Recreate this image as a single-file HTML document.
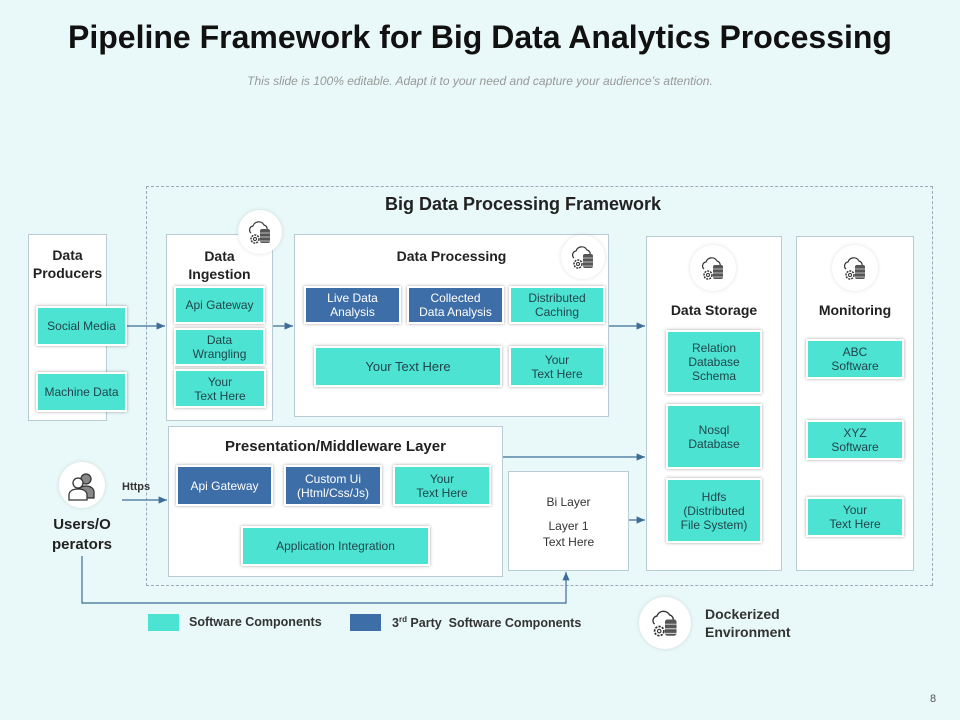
<!DOCTYPE html>
<html><head><meta charset="utf-8"><style>
*{margin:0;padding:0;box-sizing:border-box}
body{width:960px;height:720px;background:#e9f8f8;font-family:"Liberation Sans",sans-serif;position:relative;overflow:hidden}
.a{position:absolute}
.box{position:absolute;background:#fff;border:1px solid #b9ccd4}
.t,.b{position:absolute;display:flex;align-items:center;justify-content:center;text-align:center;font-size:12px;line-height:14px;border:2px solid #fff;box-shadow:0 0 3px rgba(0,0,0,.35)}
.t{background:#4de3d2;color:#21454a}
.b{background:#3e6ea8;color:#fff}
.h{position:absolute;text-align:center;font-weight:bold;font-size:14px;color:#222;line-height:18px}
.ic{position:absolute;border-radius:50%;background:#fff;box-shadow:0 0 4px rgba(0,0,0,.12)}
</style></head><body>
<div class="a" style="left:0;top:19px;width:960px;text-align:center;font-weight:bold;font-size:32px;color:#111">Pipeline Framework for Big Data Analytics Processing</div>
<div class="a" style="left:0;top:74px;width:960px;text-align:center;font-style:italic;font-size:12px;color:#999">This slide is 100% editable. Adapt it to your need and capture your audience’s attention.</div>
<div class="a" style="left:146px;top:186px;width:787px;height:400px;border:1px dashed #9ab"></div>
<div class="h" style="left:290px;top:195px;width:466px;font-size:18px">Big Data Processing Framework</div>

<svg class="a" style="left:0;top:0" width="960" height="720">
<defs><marker id="m" markerWidth="8" markerHeight="8" refX="7" refY="4" orient="auto"><path d="M0,1 L7,4 L0,7z" fill="#3e6e98"/></marker></defs>
<g stroke="#3e6e98" stroke-width="1.2" fill="none" marker-end="url(#m)">
<path d="M106 326 H165"/><path d="M273 326 H293"/><path d="M609 326 H645"/>
<path d="M502 457 H645"/><path d="M612 520 H645"/><path d="M122 500 H167"/>
<path d="M82 556 V603 H566 V572"/>
</g>
</svg>

<div class="box" style="left:28px;top:234px;width:79px;height:187px"></div>
<div class="h" style="left:28px;top:246px;width:79px">Data<br>Producers</div>
<div class="t" style="left:36px;top:306px;width:91px;height:40px">Social Media</div>
<div class="t" style="left:36px;top:372px;width:91px;height:40px">Machine Data</div>

<div class="box" style="left:166px;top:234px;width:107px;height:187px"></div>
<div class="h" style="left:166px;top:247px;width:107px">Data<br>Ingestion</div>
<div class="t" style="left:174px;top:286px;width:91px;height:38px">Api Gateway</div>
<div class="t" style="left:174px;top:328px;width:91px;height:38px">Data<br>Wrangling</div>
<div class="t" style="left:174px;top:369px;width:92px;height:39px">Your<br>Text Here</div>

<div class="box" style="left:294px;top:234px;width:315px;height:183px"></div>
<div class="h" style="left:294px;top:247px;width:315px">Data Processing</div>
<div class="b" style="left:304px;top:286px;width:97px;height:38px">Live Data<br>Analysis</div>
<div class="b" style="left:407px;top:286px;width:97px;height:38px">Collected<br>Data Analysis</div>
<div class="t" style="left:509px;top:286px;width:96px;height:38px">Distributed<br>Caching</div>
<div class="t" style="left:314px;top:346px;width:188px;height:41px;font-size:13px">Your Text Here</div>
<div class="t" style="left:509px;top:346px;width:96px;height:41px">Your<br>Text Here</div>

<div class="box" style="left:646px;top:236px;width:136px;height:335px"></div>
<div class="h" style="left:646px;top:301px;width:136px">Data Storage</div>
<div class="t" style="left:666px;top:330px;width:96px;height:64px">Relation<br>Database<br>Schema</div>
<div class="t" style="left:666px;top:404px;width:96px;height:65px">Nosql<br>Database</div>
<div class="t" style="left:666px;top:478px;width:96px;height:65px">Hdfs<br>(Distributed<br>File System)</div>

<div class="box" style="left:796px;top:236px;width:118px;height:335px"></div>
<div class="h" style="left:796px;top:301px;width:118px">Monitoring</div>
<div class="t" style="left:806px;top:339px;width:98px;height:40px">ABC<br>Software</div>
<div class="t" style="left:806px;top:420px;width:98px;height:40px">XYZ<br>Software</div>
<div class="t" style="left:806px;top:497px;width:98px;height:40px">Your<br>Text Here</div>

<div class="box" style="left:168px;top:426px;width:335px;height:151px"></div>
<div class="h" style="left:168px;top:438px;width:335px;font-size:15px">Presentation/Middleware Layer</div>
<div class="b" style="left:176px;top:465px;width:97px;height:41px">Api Gateway</div>
<div class="b" style="left:284px;top:465px;width:98px;height:41px">Custom Ui<br>(Html/Css/Js)</div>
<div class="t" style="left:393px;top:465px;width:98px;height:41px">Your<br>Text Here</div>
<div class="t" style="left:241px;top:526px;width:189px;height:40px">Application Integration</div>

<div class="box" style="left:508px;top:471px;width:121px;height:100px"></div>
<div class="a" style="left:508px;top:494px;width:121px;text-align:center;font-size:12px;color:#333;line-height:16px">Bi Layer</div>
<div class="a" style="left:508px;top:518px;width:121px;text-align:center;font-size:12px;color:#333;line-height:16px">Layer 1<br>Text Here</div>

<div class="ic" style="left:59px;top:462px;width:46px;height:46px"></div>
<svg class="a" style="left:66px;top:470px" width="32" height="32" viewBox="0 0 32 32" fill="none" stroke="#333" stroke-width="1.3"><circle cx="20" cy="9" r="5" fill="#888"/><path d="M12 28v-6c0-4 4-6 8-6s8 2 8 6v6z" fill="#888"/><circle cx="12" cy="13" r="5" fill="#fff"/><path d="M3 30v-5c0-4 4-6 9-6s9 2 9 6v5z" fill="#fff"/></svg>
<div class="h" style="left:40px;top:515px;width:84px;font-size:15px;line-height:20px">Users/O<br>perators</div>
<div class="a" style="left:122px;top:481px;font-size:11px;font-weight:bold;color:#333">Https</div>

<div class="a" style="left:148px;top:614px;width:31px;height:17px;background:#4de3d2"></div>
<div class="a" style="left:189px;top:615px;font-size:12.5px;font-weight:bold;color:#333">Software Components</div>
<div class="a" style="left:350px;top:614px;width:31px;height:17px;background:#3e6ea8"></div>
<div class="a" style="left:392px;top:615px;font-size:12.5px;font-weight:bold;color:#333">3<sup style="font-size:8px">rd</sup> Party&nbsp; Software Components</div>

<div class="h" style="left:705px;top:605px;text-align:left;font-size:14px;line-height:18px;color:#333">Dockerized<br>Environment</div>
<div class="a" style="left:930px;top:693px;font-size:11px;color:#555">8</div>

<div class="ic" style="left:238px;top:210px;width:44px;height:44px"></div>
<div class="ic" style="left:561px;top:235px;width:44px;height:44px"></div>
<div class="ic" style="left:690px;top:245px;width:46px;height:46px"></div>
<div class="ic" style="left:832px;top:245px;width:46px;height:46px"></div>
<div class="ic" style="left:639px;top:597px;width:52px;height:52px"></div>
<svg width="0" height="0" style="position:absolute"><defs><g id="g"><path d="M4 14a4 4 0 0 1 2-7 6 6 0 0 1 11-1 4 4 0 0 1 3 5" fill="#fff" stroke="#333" stroke-width="1.2"/><circle cx="8" cy="20" r="4" fill="#fff" stroke="#333" stroke-width="1.5" stroke-dasharray="2 1"/><circle cx="8" cy="20" r="1.5" fill="none" stroke="#333"/><rect x="13" y="10" width="10" height="14" rx="2" fill="#555"/><path d="M13 14h10M13 18h10M13 22h10" stroke="#ddd" stroke-width=".8"/></g></defs></svg>
<svg class="a" style="left:247px;top:219px" width="26" height="26"><use href="#g"/></svg>
<svg class="a" style="left:570px;top:244px" width="26" height="26"><use href="#g"/></svg>
<svg class="a" style="left:700px;top:255px" width="26" height="26"><use href="#g"/></svg>
<svg class="a" style="left:842px;top:255px" width="26" height="26"><use href="#g"/></svg>
<svg class="a" style="left:650px;top:608px" width="30" height="30" viewBox="0 0 26 26"><use href="#g"/></svg>
</body></html>
